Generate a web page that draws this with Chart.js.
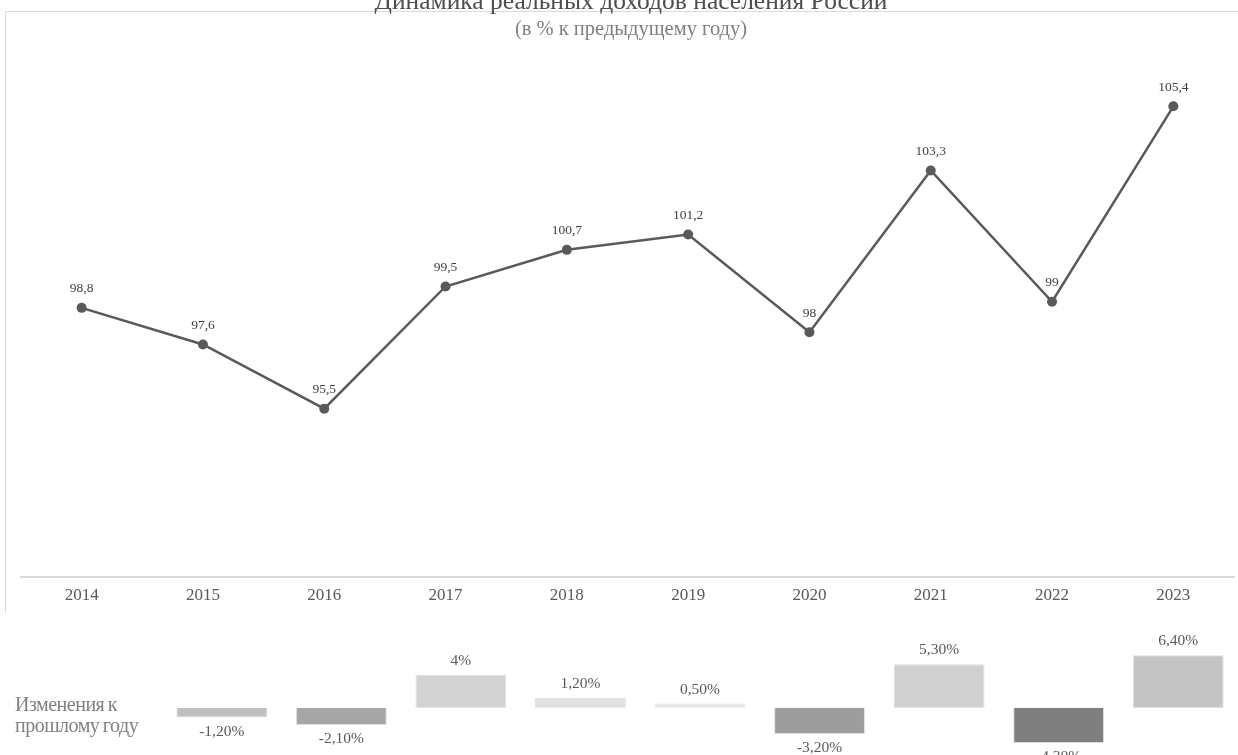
<!DOCTYPE html>
<html>
<head>
<meta charset="utf-8">
<script src="https://cdn.jsdelivr.net/npm/chart.js@4"></script>
<style>
  html, body { margin: 0; padding: 0; background: #fff; }
  body { width: 1238px; height: 755px; overflow: hidden; position: relative; }
  #frame { position: absolute; left: 5px; top: 11px; width: 1240px; height: 600px;
           border-top: 1px solid #d9d9d9; border-left: 1px solid #d9d9d9; }
  #incomeWrap { position: absolute; left: 0; top: 0; width: 1239px; height: 612px; }
  #changeWrap { position: absolute; left: 0; top: 612px; width: 1238px; height: 160px; }
  #changeNote { position: absolute; left: 15px; top: 694px; font: 20px "Liberation Serif", serif;
                color: #808080; letter-spacing: -0.5px; word-spacing: -1px; line-height: 21px; }
</style>
</head>
<body>
<div id="frame"></div>
<div id="incomeWrap"><canvas id="incomeChart"></canvas></div>
<div id="changeWrap"><canvas id="changeChart"></canvas></div>
<div id="changeNote">Изменения к<br>прошлому году</div>

<script>
// DATA

const years = ['2014', '2015', '2016', '2017', '2018', '2019', '2020', '2021', '2022', '2023'];
const realIncome = [98.8, 97.6, 95.5, 99.5, 100.7, 101.2, 98, 103.3, 99, 105.4];

const changeYears = ['2015', '2016', '2017', '2018', '2019', '2020', '2021', '2022', '2023'];
const changeValues = [-1.2, -2.1, 4, 1.2, 0.5, -3.2, 5.3, -4.3, 6.4];
const changeColors = ['#bfbfbf', '#a6a6a6', '#d2d2d2', '#e0e0e0', '#e7e7e7', '#9d9d9d', '#d0d0d0', '#7f7f7f', '#c4c4c4'];

const serif = '"Liberation Serif", "Times New Roman", serif';

function fmtIncome(v) {
    return String(v).replace('.', ',');
}

function fmtChange(v) {
    return (Number.isInteger(v) ? String(v) : v.toFixed(2).replace('.', ',')) + '%';
}

// title + subtitle, top line gets cut by the top edge
const headerPlugin = {
    id: 'header',
    afterDraw(chart) {
        const ctx = chart.ctx;
        ctx.save();
        ctx.textAlign = 'center';
        ctx.textBaseline = 'alphabetic';
        ctx.fillStyle = '#4d4d4d';
        ctx.font = '25.5px ' + serif;
        ctx.fillText('Динамика реальных доходов населения России', 631, 9);
        ctx.fillStyle = '#7f7f7f';
        ctx.font = '20.5px ' + serif;
        ctx.fillText('(в % к предыдущему году)', 631, 35);
        ctx.restore();
    }
};

// value labels over the line points
const pointLabels = {
    id: 'pointLabels',
    afterDatasetsDraw(chart) {
        const ctx = chart.ctx;
        const meta = chart.getDatasetMeta(0);
        ctx.save();
        ctx.font = '13.5px ' + serif;
        ctx.fillStyle = '#404040';
        ctx.textAlign = 'center';
        ctx.textBaseline = 'middle';
        meta.data.forEach(function(pt, i) {
            ctx.fillText(fmtIncome(realIncome[i]), pt.x, pt.y - 19);
        });
        ctx.restore();
    }
};

// labels above positive bars, below negative ones
const barLabels = {
    id: 'barLabels',
    afterDatasetsDraw(chart) {
        const ctx = chart.ctx;
        const meta = chart.getDatasetMeta(0);
        ctx.save();
        ctx.font = '15.5px ' + serif;
        ctx.fillStyle = '#595959';
        ctx.textAlign = 'center';
        ctx.textBaseline = 'middle';
        meta.data.forEach(function(bar, i) {
            const v = changeValues[i];
            const y = v >= 0 ? bar.y - 14 : bar.y + 14;
            ctx.fillText(fmtChange(v), bar.x, y);
        });
        ctx.restore();
    }
};

// CHARTS

let ctx_line = document.getElementById('incomeChart').getContext('2d');
let incomeChart = new Chart(ctx_line, {
    type: 'line',
    data: {
        labels: years,
        datasets: [{
            data: realIncome,
            borderColor: '#595959',
            borderWidth: 2.5,
            backgroundColor: '#595959',
            pointRadius: 5,
            pointBackgroundColor: '#595959',
            pointBorderWidth: 0,
            tension: 0
        }]
    },
    options: {
        responsive: true,
        maintainAspectRatio: false,
        animation: false,
        layout: {padding: {left: 21, right: 0, top: 88, bottom: 5}},
        plugins: {legend: {display: false}, tooltip: {enabled: false}},
        scales: {
            x: {
                offset: true,
                grid: {display: false},
                border: {display: true, color: '#d9d9d9', width: 2},
                ticks: {color: '#595959', font: {family: serif, size: 17}, padding: 1}
            },
            y: {
                display: false,
                min: 90,
                max: 106
            }
        }
    },
    plugins: [headerPlugin, pointLabels]
});

let ctx_bar = document.getElementById('changeChart').getContext('2d');
let changeChart = new Chart(ctx_bar, {
    type: 'bar',
    data: {
        labels: changeYears,
        datasets: [{
            data: changeValues,
            backgroundColor: changeColors,
            borderColor: 'rgba(0,0,0,0.12)',
            borderWidth: 1,
            barPercentage: 0.76,
            categoryPercentage: 1
        }]
    },
    options: {
        responsive: true,
        maintainAspectRatio: false,
        animation: false,
        layout: {padding: {left: 162, right: 0, top: 30, bottom: 15}},
        plugins: {legend: {display: false}, tooltip: {enabled: false}},
        scales: {
            x: {display: false},
            y: {display: false, min: -6, max: 8}
        }
    },
    plugins: [barLabels]
});
</script>
</body>
</html>
